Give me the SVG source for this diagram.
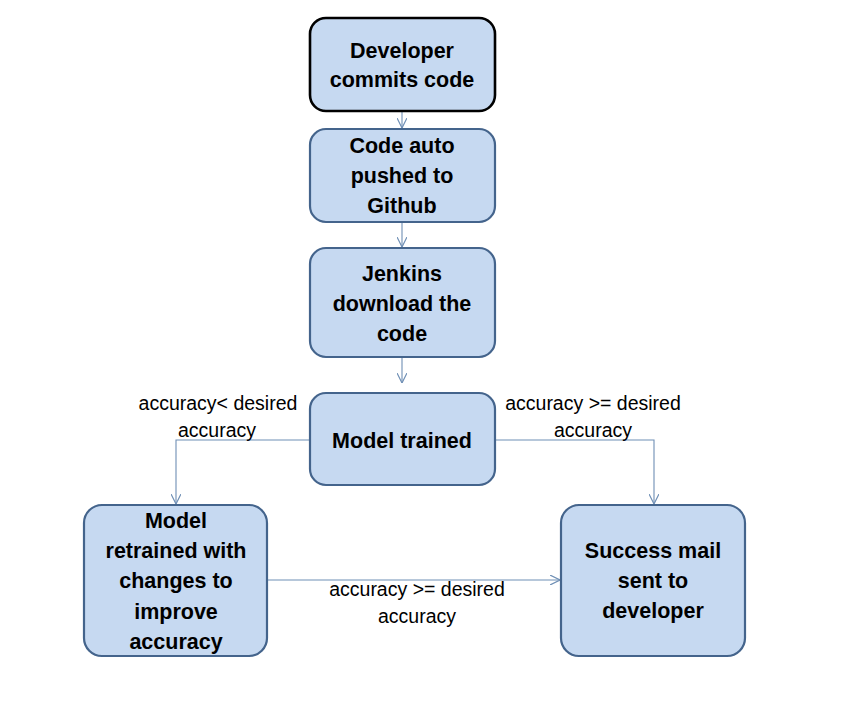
<svg xmlns="http://www.w3.org/2000/svg" width="844" height="704" viewBox="0 0 844 704">
<defs>
<style>
.node rect{fill:#c6d9f1;stroke:#44648c;stroke-width:2.2}
.node.first rect{stroke:#000000;stroke-width:2.6}
.node text{font-family:"Liberation Sans",Arial,sans-serif;font-weight:bold;font-size:21.5px;fill:#000;text-anchor:middle}
.conn{fill:none;stroke:#6f8fb5;stroke-width:1.1}
.lbl{font-family:"Liberation Sans",Arial,sans-serif;font-size:19.5px;fill:#000;text-anchor:middle}
</style>
<marker id="arr" viewBox="0 0 10 10" refX="10" refY="5" markerWidth="10" markerHeight="10" markerUnits="userSpaceOnUse" orient="auto">
<path d="M0,0 L10,5 L0,10" fill="none" stroke="#6f8fb5" stroke-width="1.2"/>
</marker>
</defs>
<rect width="844" height="704" fill="#ffffff"/>
<g id="connectors">
<line class="conn" x1="402" y1="112" x2="402" y2="128" marker-end="url(#arr)"/>
<line class="conn" x1="402" y1="223" x2="402" y2="247" marker-end="url(#arr)"/>
<line class="conn" x1="402" y1="358" x2="402" y2="383" marker-end="url(#arr)"/>
<polyline class="conn" points="310,440 176,440 176,504" marker-end="url(#arr)"/>
<polyline class="conn" points="495,440 654,440 654,504" marker-end="url(#arr)"/>
<line class="conn" x1="268" y1="580" x2="560" y2="580" marker-end="url(#arr)"/>
</g>
<g id="labels">
<text class="lbl" x="218" y="410">accuracy&lt; desired</text>
<text class="lbl" x="217" y="437">accuracy</text>
<text class="lbl" x="593" y="410">accuracy &gt;= desired</text>
<text class="lbl" x="593" y="437">accuracy</text>
<text class="lbl" x="417" y="596">accuracy &gt;= desired</text>
<text class="lbl" x="417" y="623">accuracy</text>
</g>
<g id="node-developer" class="node first">
<rect x="310" y="18" width="185" height="93" rx="16"/>
<text x="402" y="58">Developer</text>
<text x="402" y="87">commits code</text>
</g>
<g id="node-github" class="node">
<rect x="310" y="129" width="185" height="93" rx="16"/>
<text x="402" y="153">Code auto</text>
<text x="402" y="183">pushed to</text>
<text x="402" y="213">Github</text>
</g>
<g id="node-jenkins" class="node">
<rect x="310" y="248" width="185" height="109" rx="16"/>
<text x="402" y="281">Jenkins</text>
<text x="402" y="311">download the</text>
<text x="402" y="341">code</text>
</g>
<g id="node-trained" class="node">
<rect x="310" y="393" width="185" height="92" rx="16"/>
<text x="402" y="448">Model trained</text>
</g>
<g id="node-retrained" class="node">
<rect x="84" y="505" width="183" height="151" rx="18"/>
<text x="176" y="528">Model</text>
<text x="176" y="558">retrained with</text>
<text x="176" y="588">changes to</text>
<text x="176" y="619">improve</text>
<text x="176" y="649">accuracy</text>
</g>
<g id="node-success" class="node">
<rect x="561" y="505" width="184" height="151" rx="18"/>
<text x="653" y="558">Success mail</text>
<text x="653" y="588">sent to</text>
<text x="653" y="618">developer</text>
</g>
</svg>
